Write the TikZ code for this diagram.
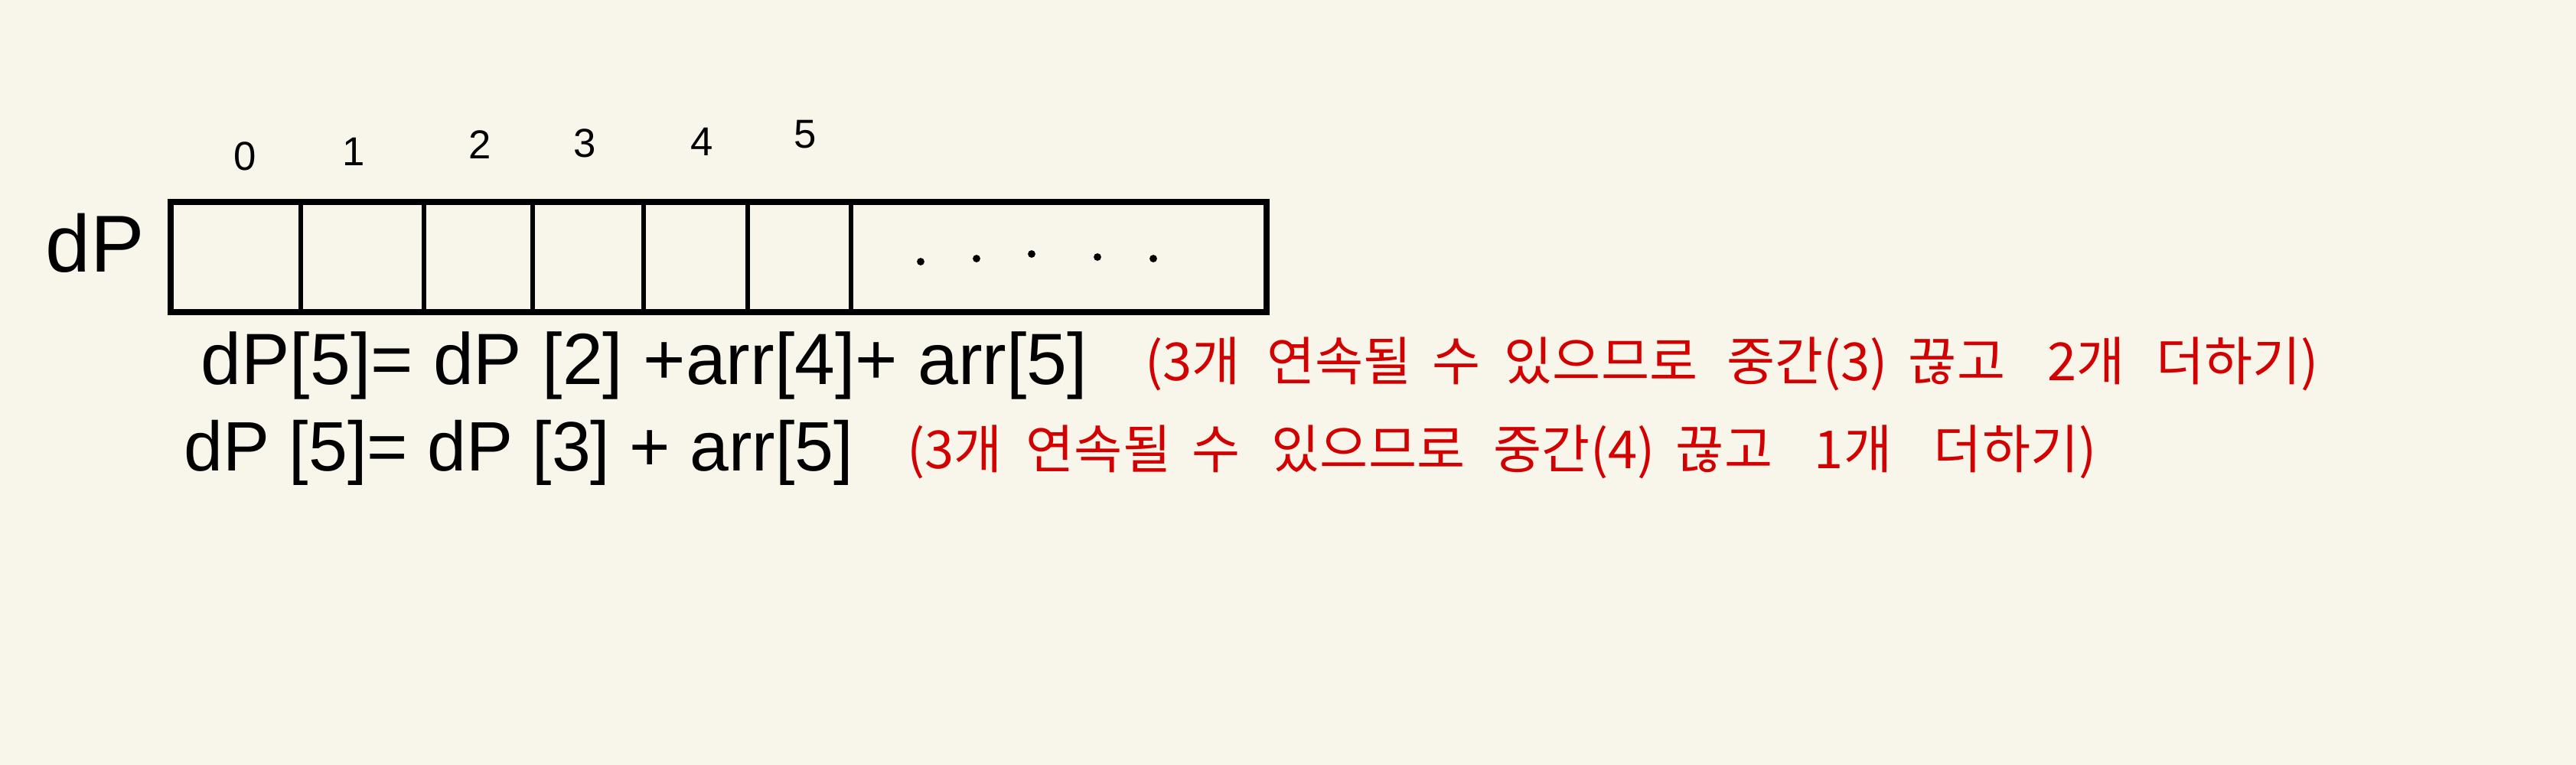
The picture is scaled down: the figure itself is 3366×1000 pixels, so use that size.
\documentclass[tikz,border=0pt]{standalone}
\usepackage{fontspec}
\setmainfont{Liberation Sans}
\newfontfamily\krfont{Noto Sans CJK KR}
\usetikzlibrary{positioning}
\definecolor{paper}{HTML}{F8F5EA}
\definecolor{note}{HTML}{D20000}

\begin{document}
\begin{tikzpicture}[
            x=0.01cm, y=-0.01cm,
            frame/.style={line width=2.4pt},
            cell/.style={line width=1.6pt},
            idx/.style={font=\fontsize{15}{17}\selectfont, inner sep=0pt},
            formula/.style={font=\fontsize{27}{30}\selectfont, anchor=base west, inner sep=0pt},
            remark/.style={anchor=base west, inner sep=0pt, text=note,
                           font=\krfont\fontsize{19.5}{22}\selectfont},
        ]
            % Paper and page size
            \fill[paper] (0,0) rectangle (3366,1000);
            \useasboundingbox (0,0) rectangle (3366,1000);

            % Array dp with its cells
            \node[font=\fontsize{30}{34}\selectfont] (name) at (124,318) {dP};
            \draw[frame] (223,264) rectangle (1655,408);
            \foreach \x in {393,554,696,841,977,1112}
                \draw[cell] (\x,264) -- (\x,408);
            \foreach \x/\y in {1203/342, 1276/338, 1348/332, 1434/336, 1507/338}
                \fill (\x,\y) circle[radius=1.4pt];

            % Indices above the cells
            \foreach \i/\x/\y in {0/320/204, 1/462/198, 2/627/189, 3/764/187, 4/917/185, 5/1052/176}
                \node[idx] (i\i) at (\x,\y) {\i};

            % Two ways to fill dp[5]
            \node[formula] (f1) at (262,502) {dP[5]= dP [2] +arr[4]+ arr[5]};
            \node[remark] (r1) at (1496,497) {(3개\hspace{0.5em}연속될\hspace{0.4em}수\hspace{0.45em}있으므로\hspace{0.55em}중간(3)\hspace{0.4em}끊고\hspace{0.8em}2개\hspace{0.6em}더하기)};
            \node[formula, font=\fontsize{26}{29}\selectfont] (f2) at (240,615) {dP [5]= dP [3] + arr[5]};
            \node[remark] (r2) at (1185,612) {(3개\hspace{0.45em}연속될\hspace{0.4em}수\hspace{0.6em}있으므로\hspace{0.55em}중간(4)\hspace{0.4em}끊고\hspace{0.8em}1개\hspace{0.8em}더하기)};
        \end{tikzpicture}
\end{document}
